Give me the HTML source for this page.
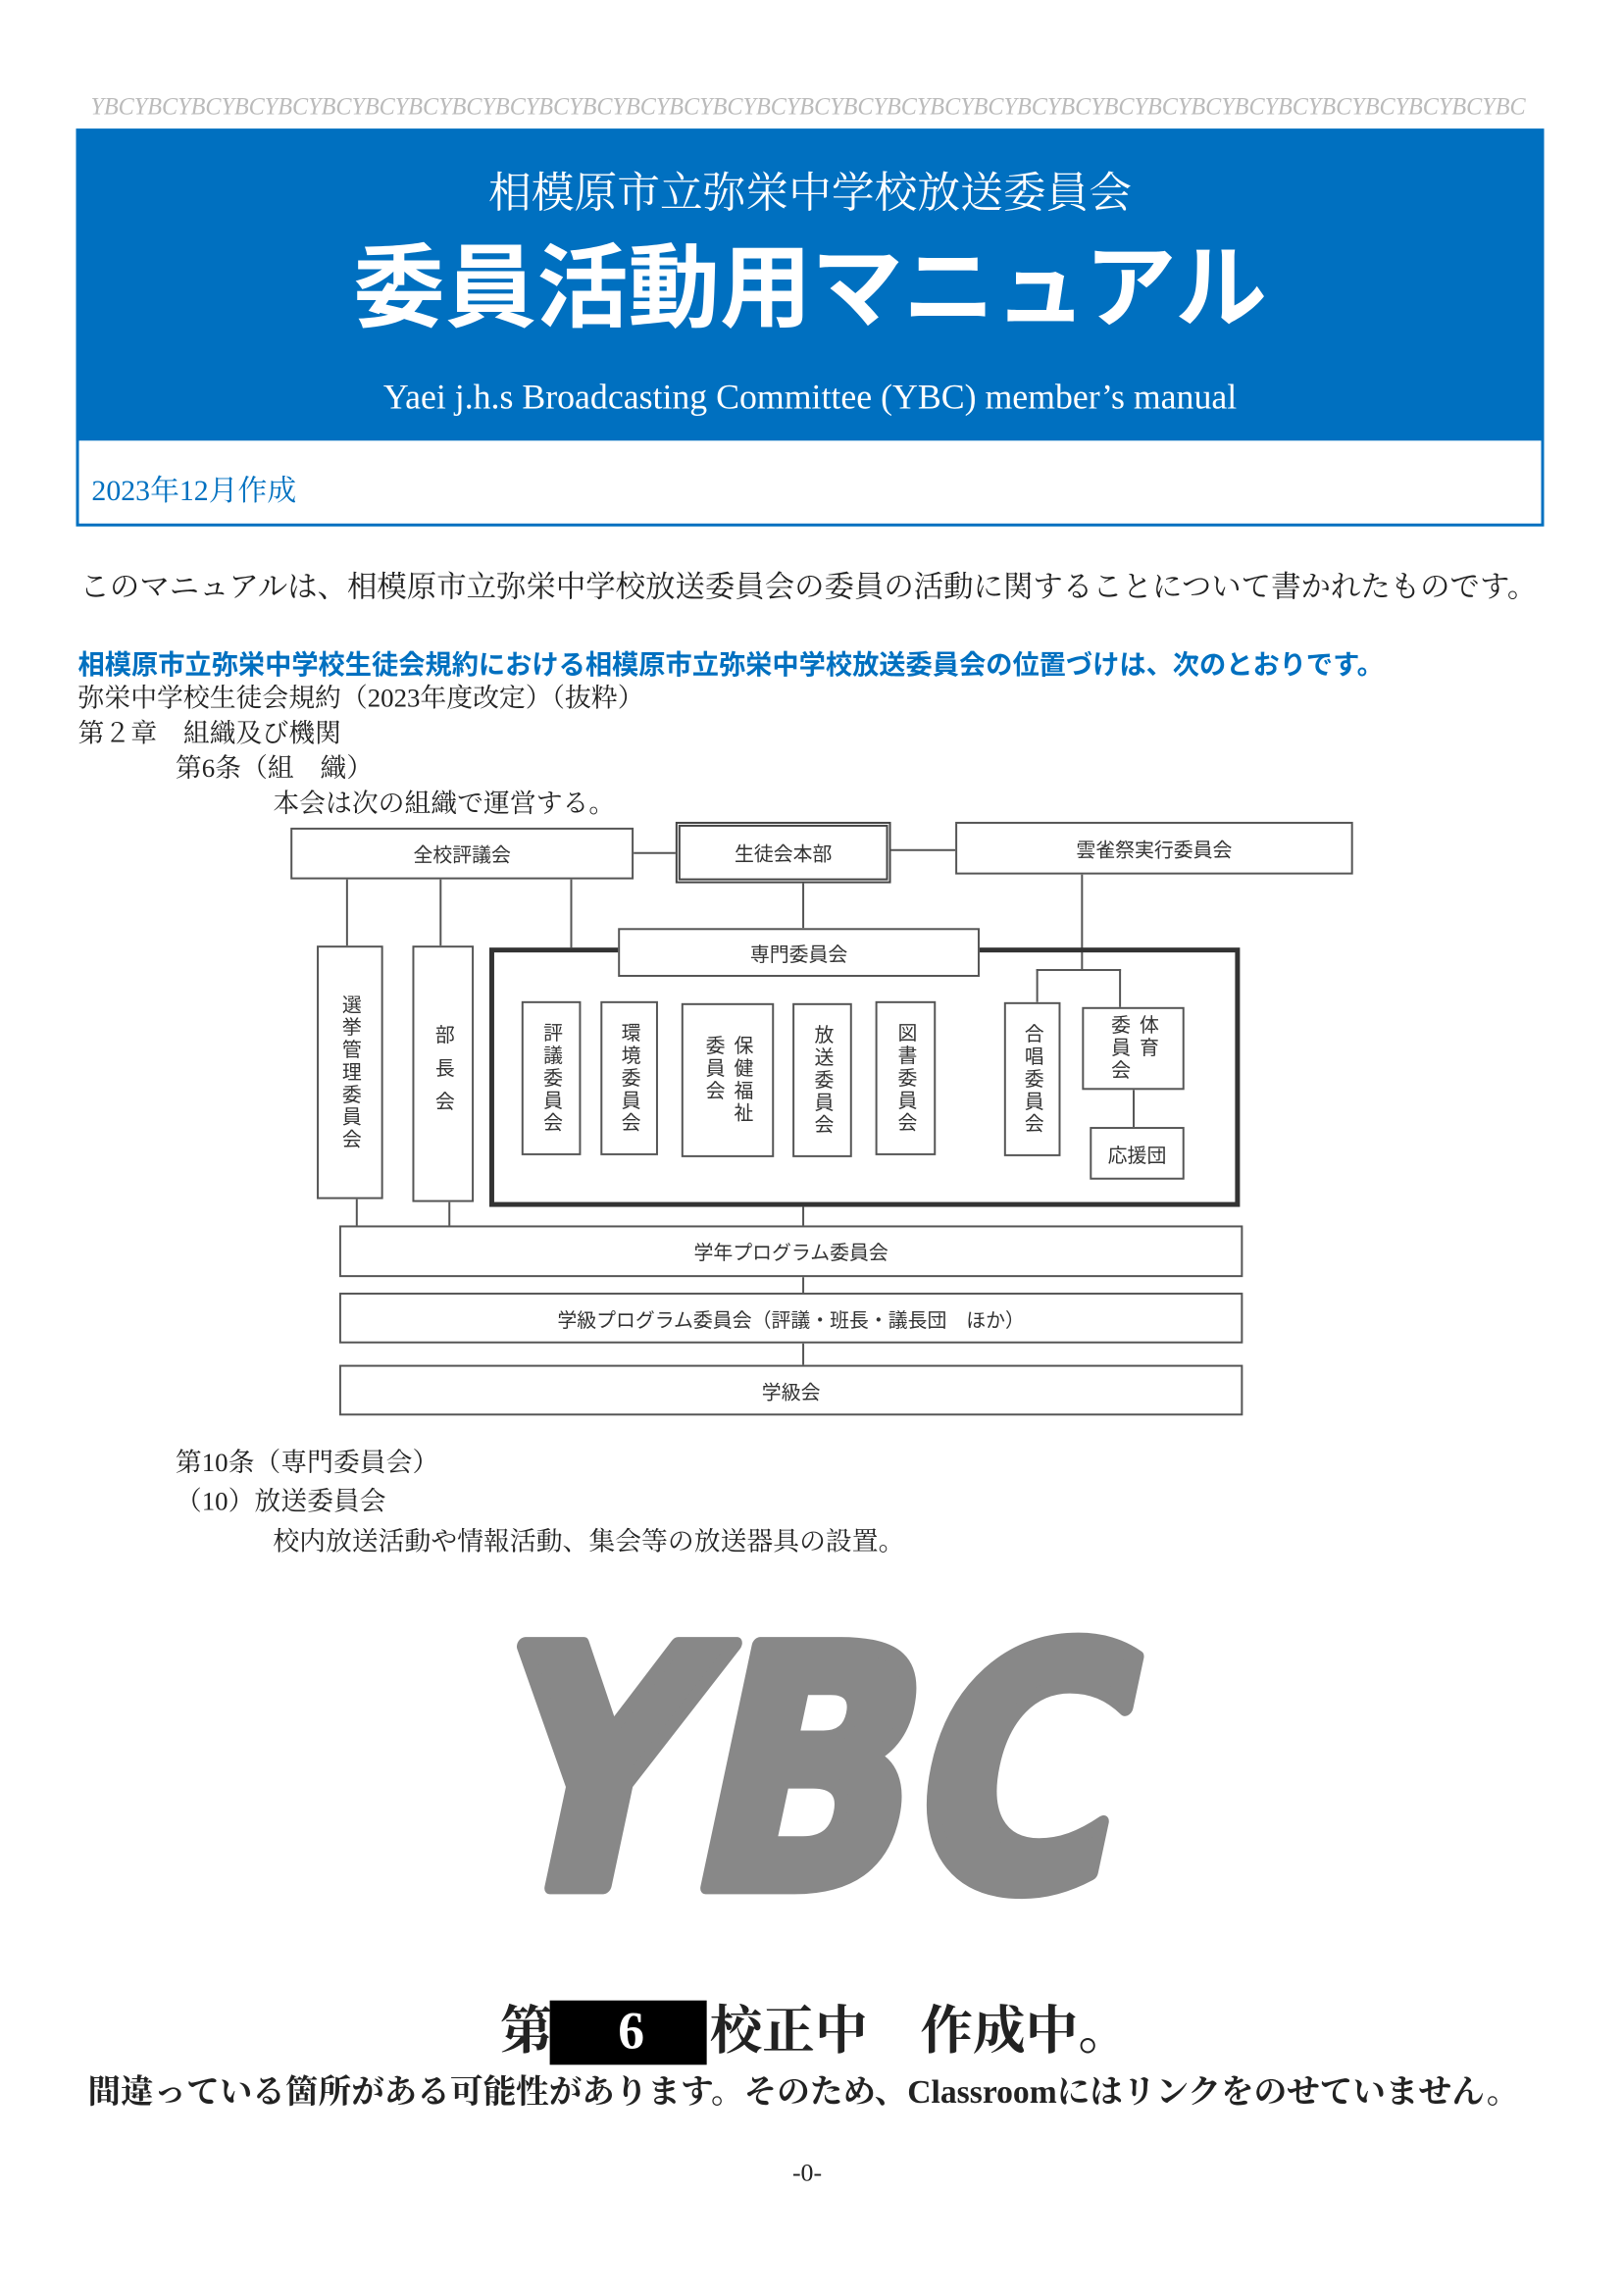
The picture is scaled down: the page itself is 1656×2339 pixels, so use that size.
<!DOCTYPE html>
<html><head><meta charset="utf-8">
<style>
*{margin:0;padding:0;box-sizing:border-box}
body{width:1656px;height:2339px;background:#fff;position:relative;overflow:hidden;font-family:"Liberation Serif","Noto Serif CJK SC",serif;color:#222}
#w{position:absolute;left:0;top:0;width:1656px;height:2339px;transform:scale(0.994);transform-origin:0 0}
.a{position:absolute;white-space:nowrap}
.b{position:absolute;border:2px solid #555;background:#fff;display:flex;align-items:center;justify-content:center;font-size:20px;color:#333;font-family:"Liberation Sans","Noto Sans CJK JP",sans-serif}
.v{writing-mode:vertical-rl;letter-spacing:3px}
.l{position:absolute;background:#555}
</style></head><body><div id="w">
<svg class="a" style="left:93px;top:92px" width="1480" height="34"><text x="0" y="25" textLength="1472" lengthAdjust="spacingAndGlyphs" font-family="Liberation Serif" font-style="italic" font-size="25" fill="#bbb">YBCYBCYBCYBCYBCYBCYBCYBCYBCYBCYBCYBCYBCYBCYBCYBCYBCYBCYBCYBCYBCYBCYBCYBCYBCYBCYBCYBCYBCYBCYBCYBCYBC</text></svg>
<div class="a" style="left:78px;top:132px;width:1506px;height:408px;border:3px solid #0070c0"></div>
<div class="a" style="left:78px;top:132px;width:1506px;height:320px;background:#0070c0"></div>
<div class="a" style="left:78px;top:162px;width:1506px;text-align:center;color:#fff;font-size:44px">相模原市立弥栄中学校放送委員会</div>
<div class="a" style="left:78px;top:236px;width:1506px;text-align:center;color:#fff;font-size:94px;font-weight:bold;font-family:'Liberation Sans','Noto Sans CJK JP',sans-serif;line-height:120px">委員活動用マニュアル</div>
<div class="a" style="left:78px;top:386px;width:1506px;text-align:center;color:#fff;font-size:36px">Yaei j.h.s Broadcasting Committee (YBC) member’s manual</div>
<div class="a" style="left:94px;top:478px;color:#0070c0;font-size:30px">2023年12月作成</div>
<div class="a" style="left:82px;top:577px;font-size:30.6px">このマニュアルは、相模原市立弥栄中学校放送委員会の委員の活動に関することについて書かれたものです。</div>
<div class="a" style="left:80px;top:659px;font-size:27.4px;font-weight:bold;color:#0070c0;font-family:'Liberation Sans','Noto Sans CJK JP',sans-serif">相模原市立弥栄中学校生徒会規約における相模原市立弥栄中学校放送委員会の位置づけは、次のとおりです。</div>
<div class="a" style="left:80px;top:694px;font-size:27px">弥栄中学校生徒会規約（2023年度改定）（抜粋）</div>
<div class="a" style="left:80px;top:730px;font-size:27px">第２章　組織及び機関</div>
<div class="a" style="left:180px;top:766px;font-size:27px">第6条（組　織）</div>
<div class="a" style="left:280px;top:802px;font-size:27px">本会は次の組織で運営する。</div>

<div class="l" style="left:650px;top:874px;width:44px;height:2px"></div>
<div class="l" style="left:914px;top:871px;width:66px;height:2px"></div>
<div class="l" style="left:355px;top:902px;width:2px;height:68px"></div>
<div class="l" style="left:451px;top:902px;width:2px;height:68px"></div>
<div class="l" style="left:585px;top:902px;width:2px;height:70px"></div>
<div class="l" style="left:823px;top:906px;width:2px;height:46px"></div>
<div class="l" style="left:1109px;top:897px;width:2px;height:98px"></div>
<div class="l" style="left:1063px;top:994px;width:87px;height:2px"></div>
<div class="l" style="left:1063px;top:994px;width:2px;height:34px"></div>
<div class="l" style="left:1148px;top:994px;width:2px;height:40px"></div>
<div class="l" style="left:1162px;top:1118px;width:2px;height:38px"></div>
<div class="l" style="left:365px;top:1230px;width:2px;height:28px"></div>
<div class="l" style="left:460px;top:1233px;width:2px;height:25px"></div>
<div class="l" style="left:823px;top:1238px;width:2px;height:20px"></div>
<div class="l" style="left:823px;top:1310px;width:2px;height:16px"></div>
<div class="l" style="left:823px;top:1378px;width:2px;height:22px"></div>

<div class="a" style="left:502px;top:972px;width:770px;height:266px;border:5px solid #333"></div>
<div class="b" style="left:298px;top:849px;width:352px;height:53px">全校評議会</div>
<div class="b" style="left:693px;top:843px;width:221px;height:63px;border:5px double #444">生徒会本部</div>
<div class="b" style="left:980px;top:843px;width:408px;height:54px">雲雀祭実行委員会</div>
<div class="b" style="left:634px;top:952px;width:371px;height:50px">専門委員会</div>
<div class="b v" style="left:325px;top:970px;width:68px;height:260px">選挙管理委員会</div>
<div class="b v" style="left:423px;top:970px;width:63px;height:263px;letter-spacing:14px">部長会</div>
<div class="b v" style="left:535px;top:1027px;width:61px;height:158px">評議委員会</div>
<div class="b v" style="left:616px;top:1027px;width:59px;height:158px">環境委員会</div>
<div class="b v" style="left:699px;top:1029px;width:95px;height:158px">保健福祉<br>委員会</div>
<div class="b v" style="left:813px;top:1029px;width:61px;height:158px">放送委員会</div>
<div class="b v" style="left:898px;top:1027px;width:62px;height:158px">図書委員会</div>
<div class="b v" style="left:1030px;top:1028px;width:58px;height:158px">合唱委員会</div>
<div class="b v" style="left:1110px;top:1033px;width:105px;height:85px">体育<br>委員会</div>
<div class="b" style="left:1118px;top:1156px;width:97px;height:54px">応援団</div>
<div class="b" style="left:348px;top:1257px;width:927px;height:53px">学年プログラム委員会</div>
<div class="b" style="left:348px;top:1326px;width:927px;height:52px">学級プログラム委員会（評議・班長・議長団　ほか）</div>
<div class="b" style="left:348px;top:1400px;width:927px;height:52px">学級会</div>

<div class="a" style="left:180px;top:1478px;font-size:27px">第10条（専門委員会）</div>
<div class="a" style="left:180px;top:1518px;font-size:27px">（10）放送委員会</div>
<div class="a" style="left:280px;top:1559px;font-size:27px">校内放送活動や情報活動、集会等の放送器具の設置。</div>

<svg class="a" style="left:450px;top:1650px" width="740" height="320" viewBox="0 0 740 320">
<text x="36" y="285" transform="skewX(-12) translate(62,0)" textLength="648" lengthAdjust="spacingAndGlyphs" font-family="DejaVu Sans" font-weight="bold" font-size="340" fill="#888" stroke="#888" stroke-width="16" stroke-linejoin="round">YBC</text>
</svg>

<div class="a" style="left:564px;top:2052px;width:161px;height:66px;background:#000"></div>
<div class="a" style="left:513px;top:2050px;font-size:54px;font-weight:bold;line-height:66px">第<span style="display:inline-block;width:161px;text-align:center;color:#fff">6</span>校正中　作成中。</div>
<div class="a" style="left:90px;top:2118px;font-size:33.8px;font-weight:bold">間違っている箇所がある可能性があります。そのため、Classroomにはリンクをのせていません。</div>
<div class="a" style="left:0;top:2214px;width:1656px;text-align:center;font-size:26px">-0-</div>
</div></body></html>
